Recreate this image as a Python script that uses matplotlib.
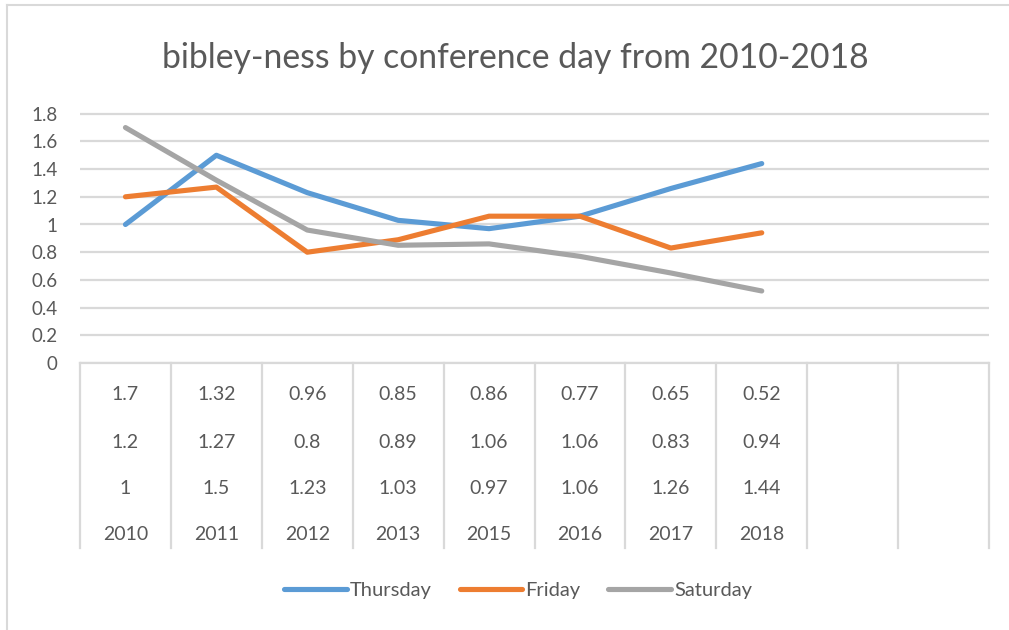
import numpy as np
import matplotlib
matplotlib.use("Agg")
import matplotlib.pyplot as plt
from matplotlib.lines import Line2D

# chart values
years = ["2010", "2011", "2012", "2013", "2015", "2016", "2017", "2018", "", ""]
thursday = [1, 1.5, 1.23, 1.03, 0.97, 1.06, 1.26, 1.44]
friday = [1.2, 1.27, 0.8, 0.89, 1.06, 1.06, 0.83, 0.94]
saturday = [1.7, 1.32, 0.96, 0.85, 0.86, 0.77, 0.65, 0.52]
y_ticks = [0, 0.2, 0.4, 0.6, 0.8, 1, 1.2, 1.4, 1.6, 1.8]

series = [("Thursday", thursday, "#5B9BD5"),
          ("Friday", friday, "#ED7D31"),
          ("Saturday", saturday, "#A5A5A5")]

TEXT = "#595959"
GRID = "#D9D9D9"
FONT = "Lato"

W, H = 1009, 630
fig = plt.figure(figsize=(W / 100, H / 100), dpi=100)

def fx(px):
    return px / W

def fy(py):
    return 1 - py / H

# outer frame (only left and top edges are visible in the source)
fig.add_artist(Line2D([fx(7), fx(7)], [fy(5), 0], color="#D9D9D9", lw=1.5))
fig.add_artist(Line2D([fx(7), 1], [fy(5), fy(5)], color="#D9D9D9", lw=1.5))

left, right = 80, 989
ncat = len(years)
xs = np.arange(ncat) + 0.5

# main line plot
ytop = 1.83
ax = fig.add_axes([fx(left), fy(363), fx(right - left), fy(363 - 138.5 * ytop) - fy(363)])
for name, vals, col in series:
    ax.plot(xs[:len(vals)], vals, color=col, lw=3.7, solid_capstyle="round",
            solid_joinstyle="round", zorder=3, label=name)
ax.set_xlim(0, ncat)
ax.set_ylim(0, ytop)
ax.set_yticks(y_ticks)
ax.set_yticklabels([f"{v:g}" for v in y_ticks])
ax.set_xticks([])
ax.grid(axis="y", color=GRID, lw=1.6)
ax.set_axisbelow(True)
for s in ax.spines.values():
    s.set_visible(False)
ax.tick_params(axis="y", length=0, pad=16, labelsize=13.5, labelcolor=TEXT)
for t in ax.get_yticklabels():
    t.set_fontfamily(FONT)

# data table under the plot
tab = fig.add_axes([fx(left), fy(548), fx(right - left), fy(363) - fy(548)])
tab.set_xlim(0, ncat)
tab.set_ylim(185, 0)
tab.axis("off")
tab.axhline(0, color=GRID, lw=1.6, clip_on=False)
for i in range(ncat + 1):
    tab.axvline(i, color=GRID, lw=1.6, clip_on=False)
row_y = [32, 79, 126, 172]
rows = [saturday, friday, thursday]
for r, vals in enumerate(rows):
    for i, v in enumerate(vals):
        tab.text(xs[i], row_y[r], f"{v:g}", ha="center", va="center",
                 fontsize=14, color=TEXT, fontfamily=FONT)
for i, yr in enumerate(years):
    tab.text(xs[i], row_y[3], yr, ha="center", va="center",
             fontsize=14, color=TEXT, fontfamily=FONT)

# title
fig.text(fx(515), fy(58), "bibley-ness by conference day from 2010-2018",
         ha="center", va="center", fontsize=24.3, color=TEXT, fontfamily=FONT)

# legend
handles = [Line2D([], [], color=c, lw=3.7, solid_capstyle="round") for _, _, c in series]
leg = fig.legend(handles, [n for n, _, _ in series], loc="center",
                 bbox_to_anchor=(fx(518), fy(590)), ncol=3, frameon=False,
                 handlelength=3.1, handletextpad=0.15, columnspacing=1.4,
                 prop={"family": FONT, "size": 14.5})
for t in leg.get_texts():
    t.set_color(TEXT)

fig.savefig("out.png", dpi=100, facecolor="white")
